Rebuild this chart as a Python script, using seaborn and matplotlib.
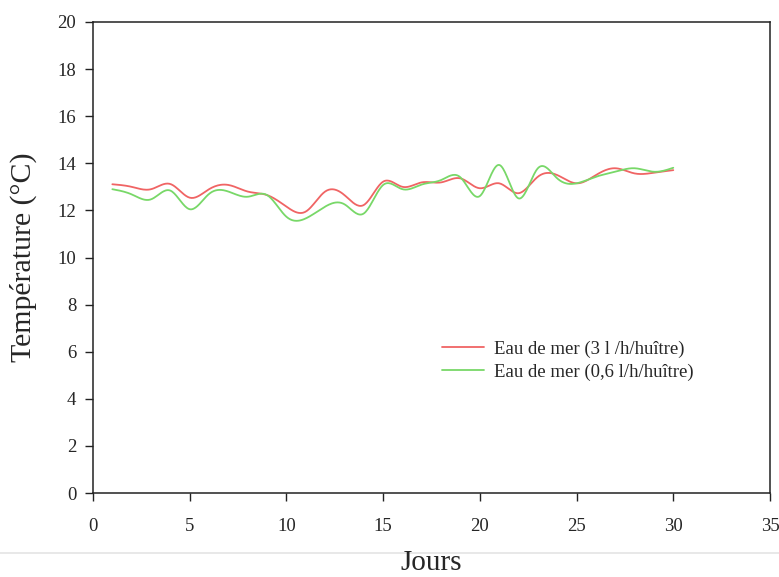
import numpy as np
import pandas as pd
import matplotlib
matplotlib.use("Agg")
import matplotlib.pyplot as plt
import seaborn as sns
from matplotlib.lines import Line2D

# ---- data ----
jours = list(range(1, 31))
eau_3 = [13.11, 13.00, 12.90, 13.12, 12.54, 12.90, 13.08, 12.80, 12.65, 12.16,
         11.95, 12.80, 12.65, 12.23, 13.22, 13.00, 13.19, 13.19, 13.36, 12.94,
         13.15, 12.73, 13.43, 13.50, 13.15, 13.50, 13.79, 13.57, 13.60, 13.71]
eau_06 = [12.90, 12.68, 12.47, 12.84, 12.05, 12.70, 12.80, 12.58, 12.65, 11.73,
          11.66, 12.16, 12.26, 11.87, 13.08, 12.90, 13.10, 13.29, 13.40, 12.61,
          13.93, 12.51, 13.79, 13.36, 13.15, 13.43, 13.64, 13.79, 13.64, 13.81]
labels = ["Eau de mer (3 l /h/huître)", "Eau de mer (0,6 l/h/huître)"]
colors = ["#f06464", "#78d868"]
x_ticks = [0, 5, 10, 15, 20, 25, 30, 35]
y_ticks = [0, 2, 4, 6, 8, 10, 12, 14, 16, 18, 20]


def natural_spline(x, y, n=20):
    x = np.asarray(x, float)
    y = np.asarray(y, float)
    m = len(x)
    h = np.diff(x)
    A = np.zeros((m, m))
    b = np.zeros(m)
    A[0, 0] = A[-1, -1] = 1
    for i in range(1, m - 1):
        A[i, i - 1] = h[i - 1]
        A[i, i] = 2 * (h[i - 1] + h[i])
        A[i, i + 1] = h[i]
        b[i] = 3 * ((y[i + 1] - y[i]) / h[i] - (y[i] - y[i - 1]) / h[i - 1])
    c = np.linalg.solve(A, b)
    xs, ys = [], []
    for i in range(m - 1):
        t = np.linspace(0, h[i], n, endpoint=False)
        bi = (y[i + 1] - y[i]) / h[i] - h[i] * (2 * c[i] + c[i + 1]) / 3
        di = (c[i + 1] - c[i]) / (3 * h[i])
        xs.append(x[i] + t)
        ys.append(y[i] + bi * t + c[i] * t ** 2 + di * t ** 3)
    xs.append([x[-1]])
    ys.append([y[-1]])
    return np.concatenate(xs), np.concatenate(ys)


frames = []
for lab, vals in zip(labels, [eau_3, eau_06]):
    xs, ys = natural_spline(jours, vals)
    frames.append(pd.DataFrame({"Jours": xs, "T": ys, "serie": lab}))
df = pd.concat(frames, ignore_index=True)

sns.set_style("white")
plt.rcParams["font.family"] = ["Liberation Serif", "DejaVu Serif"]

fig = plt.figure(figsize=(7.79, 5.77), dpi=100)
ax = fig.add_axes([93 / 779, 1 - 493 / 577, (770 - 93) / 779, (493 - 22) / 577])

sns.lineplot(data=df, x="Jours", y="T", hue="serie", palette=colors,
             hue_order=labels, linewidth=1.3, ax=ax, sort=False)

ax.set_xlim(0, 35)
ax.set_ylim(0, 20)
ax.set_xticks(x_ticks)
ax.set_yticks(y_ticks)
ax.tick_params(axis="both", labelsize=13.5, direction="out", length=6,
               width=1, color="#222222", left=True, bottom=True)
ax.tick_params(axis="y", pad=6)
ax.tick_params(axis="x", pad=12)
for s in ax.spines.values():
    s.set_color("#222222")
    s.set_linewidth(1.1)

ax.set_xlabel("")
ax.set_ylabel("")
fig.text(23 / 779, 1 - 257 / 577, "Température (°C)", fontsize=21.5,
         rotation=90, ha="center", va="center")
fig.text(431 / 779, 1 - 570 / 577, "Jours", fontsize=21, ha="center", va="baseline")

# faint scan line
fig.add_artist(Line2D([0, 1], [1 - 553 / 577, 1 - 553 / 577], color="#e4e4e4",
                      linewidth=1.2, transform=fig.transFigure))

handles, labs = ax.get_legend_handles_labels()
ax.legend(handles, labs, loc="center left",
          bbox_to_anchor=(442 / 779, 1 - 360.5 / 577),
          bbox_transform=fig.transFigure, frameon=False, fontsize=13.5,
          borderpad=0, borderaxespad=0, handlelength=2.25, handletextpad=0.5,
          labelspacing=0.3)

fig.savefig("out.png", dpi=100)
